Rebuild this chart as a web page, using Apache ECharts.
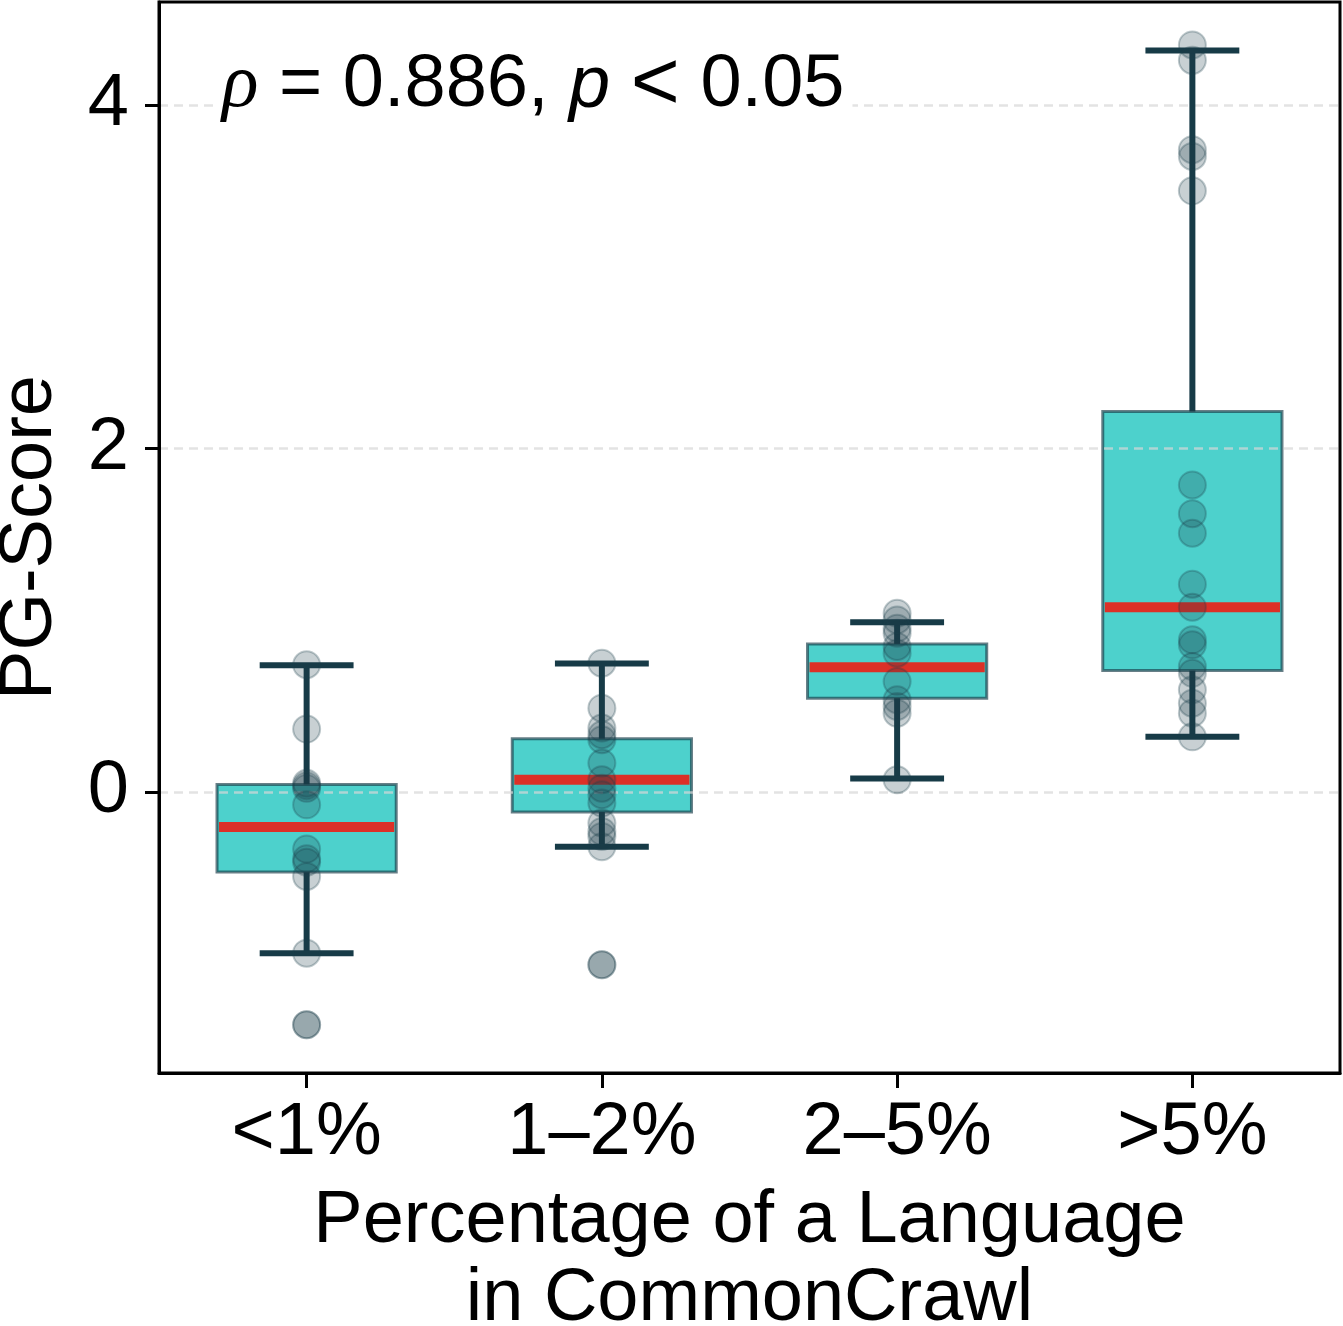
<!DOCTYPE html>
<html><head><meta charset="utf-8">
<script src="https://cdn.jsdelivr.net/npm/echarts@6/dist/echarts.min.js"></script>
<style>html,body{margin:0;padding:0;background:#fff}#c{width:1343px;height:1326px}</style>
</head><body><div id="c"></div>
<script>
// ---- data ----
const categories = ['<1%', '1–2%', '2–5%', '>5%'];
const whiskerLow  = [-0.94, -0.32, 0.077, 0.32];
const quartile1   = [-0.468, -0.118, 0.545, 0.706];
const medians     = [-0.205, 0.07, 0.726, 1.075];
const quartile3   = [0.043, 0.309, 0.861, 2.215];
const whiskerHigh = [0.737, 0.747, 0.988, 4.318];

const pointsLt1 = [0.74, 0.365, 0.05, 0.035, 0.02, -0.076, -0.334, -0.39, -0.41, -0.493, -0.94, -1.357];
const points1to2 = [0.749, 0.487, 0.371, 0.332, 0.303, 0.167, 0.07, 0.021, -0.017, -0.066, -0.182, -0.231, -0.26, -0.32, -1.007];
const points2to5 = [1.04, 1.001, 0.953, 0.924, 0.846, 0.807, 0.642, 0.536, 0.497, 0.458, 0.07];
const pointsGt5 = [4.35, 4.26, 3.74, 3.70, 3.50, 1.787, 1.62, 1.506, 1.209, 1.075, 0.885, 0.856, 0.73, 0.69, 0.594, 0.516, 0.458, 0.32];
const outlierCategory = [0, 1];
const outlierValues = [-1.357, -1.007];
const yTicks = [0, 2, 4];

// ---- build ----
const boxData = categories.map((c, i) => [i, whiskerLow[i], quartile1[i], medians[i], quartile3[i], whiskerHigh[i]]);
const allPoints = [pointsLt1, points1to2, points2to5, pointsGt5];
const scatterData = [];
allPoints.forEach((arr, i) => arr.forEach(v => scatterData.push([i, v])));
const outlierData = outlierCategory.map((c, i) => [c, outlierValues[i]]);

const FONT = 'Liberation Sans';
const FS = 74;
const DARK = '#173b47';
const pointStyle = { color: 'rgba(27,63,76,0.30)', borderColor: 'rgba(27,63,76,0.35)', borderWidth: 2 };

const chart = echarts.init(document.getElementById('c'), null, { renderer: 'canvas' });
chart.setOption({
  backgroundColor: '#fff',
  animation: false,
  grid: { left: 159, right: 3, top: 2, bottom: 253, outerBoundsMode: 'none', containLabel: false,
    show: true, borderColor: '#000', borderWidth: 3, backgroundColor: 'transparent' },
  xAxis: {
    type: 'category', data: categories, boundaryGap: true,
    axisLine: { show: true, onZero: false, lineStyle: { color: '#000', width: 3 } },
    axisTick: { show: true, alignWithLabel: true, length: 15, lineStyle: { color: '#000', width: 3 } },
    axisLabel: { fontSize: FS, color: '#000', fontFamily: FONT, margin: 24 },
    splitLine: { show: false },
    name: 'Percentage of a Language\nin CommonCrawl',
    nameLocation: 'middle', nameGap: 110,
    nameTextStyle: { fontSize: FS, color: '#000', fontFamily: FONT, lineHeight: 78 }
  },
  yAxis: {
    type: 'value', min: -1.638, max: 4.6, z: 1,
    axisLine: { show: true, lineStyle: { color: '#000', width: 3 } },
    axisTick: { show: true, customValues: yTicks, length: 14, lineStyle: { color: '#000', width: 3 } },
    axisLabel: { customValues: yTicks, fontSize: FS, color: '#000', fontFamily: FONT, margin: 30 },
    splitLine: { show: true, lineStyle: { color: 'rgba(215,215,215,0.7)', width: 2.5, type: [9, 6] } },
    name: 'PG-Score', nameLocation: 'middle', nameRotate: 90, nameGap: 91,
    nameTextStyle: { fontSize: FS, color: '#000', fontFamily: FONT }
  },
  series: [
    {
      type: 'custom', z: 0, data: boxData,
      encode: { x: 0, y: [1, 2, 3, 4, 5] },
      renderItem(params, api) {
        const x = api.value(0);
        const top = api.coord([x, api.value(4)]);
        const bot = api.coord([x, api.value(2)]);
        const bw = api.size([1, 0])[0] * 0.607;
        return { type: 'rect', shape: { x: top[0] - bw / 2, y: top[1], width: bw, height: bot[1] - top[1] },
          style: { fill: '#4dd1cc', stroke: 'rgba(23,59,71,0.65)', lineWidth: 3 } };
      }
    },
    {
      type: 'custom', z: 3, data: boxData,
      encode: { x: 0, y: [1, 2, 3, 4, 5] },
      renderItem(params, api) {
        const x = api.value(0);
        const lo = api.coord([x, api.value(1)]);
        const q1 = api.coord([x, api.value(2)]);
        const md = api.coord([x, api.value(3)]);
        const q3 = api.coord([x, api.value(4)]);
        const hi = api.coord([x, api.value(5)]);
        const band = api.size([1, 0])[0];
        const bw = band * 0.607;
        const cw = band * 0.318;
        const cx = lo[0];
        const ls = { stroke: DARK, lineWidth: 6 };
        return { type: 'group', children: [
          { type: 'line', shape: { x1: cx, y1: q1[1], x2: cx, y2: lo[1] }, style: ls },
          { type: 'line', shape: { x1: cx, y1: q3[1], x2: cx, y2: hi[1] }, style: ls },
          { type: 'line', shape: { x1: cx - cw / 2, y1: lo[1], x2: cx + cw / 2, y2: lo[1] }, style: ls },
          { type: 'line', shape: { x1: cx - cw / 2, y1: hi[1], x2: cx + cw / 2, y2: hi[1] }, style: ls },
          { type: 'line', shape: { x1: cx - bw / 2 + 2, y1: md[1], x2: cx + bw / 2 - 2, y2: md[1] }, style: { stroke: '#dc3027', lineWidth: 10 } }
        ] };
      }
    },
    {
      type: 'scatter', z: 4, data: outlierData, symbolSize: 27,
      itemStyle: { color: 'rgba(27,63,76,0.35)', borderColor: 'rgba(27,63,76,0.3)', borderWidth: 2 }
    },
    {
      type: 'scatter', z: 5, data: scatterData, symbolSize: 27,
      itemStyle: pointStyle
    }
  ],
  graphic: [{
    type: 'text', x: 214, y: 86, z: 10,
    style: {
      text: '{r|ρ} = 0.886, {p|p} {lt|<} 0.05',
      fontSize: 74, fontFamily: FONT, fill: '#000', verticalAlign: 'middle',
      backgroundColor: '#fff', padding: [0, 8],
      rich: {
        r: { fontFamily: 'Liberation Serif', fontStyle: 'italic', fontSize: 76, fill: '#000' },
        p: { fontFamily: FONT, fontStyle: 'italic', fontSize: 74, fill: '#000' },
        lt: { fontFamily: FONT, fontSize: 84, fill: '#000' }
      }
    }
  }]
});
</script>
</body></html>
